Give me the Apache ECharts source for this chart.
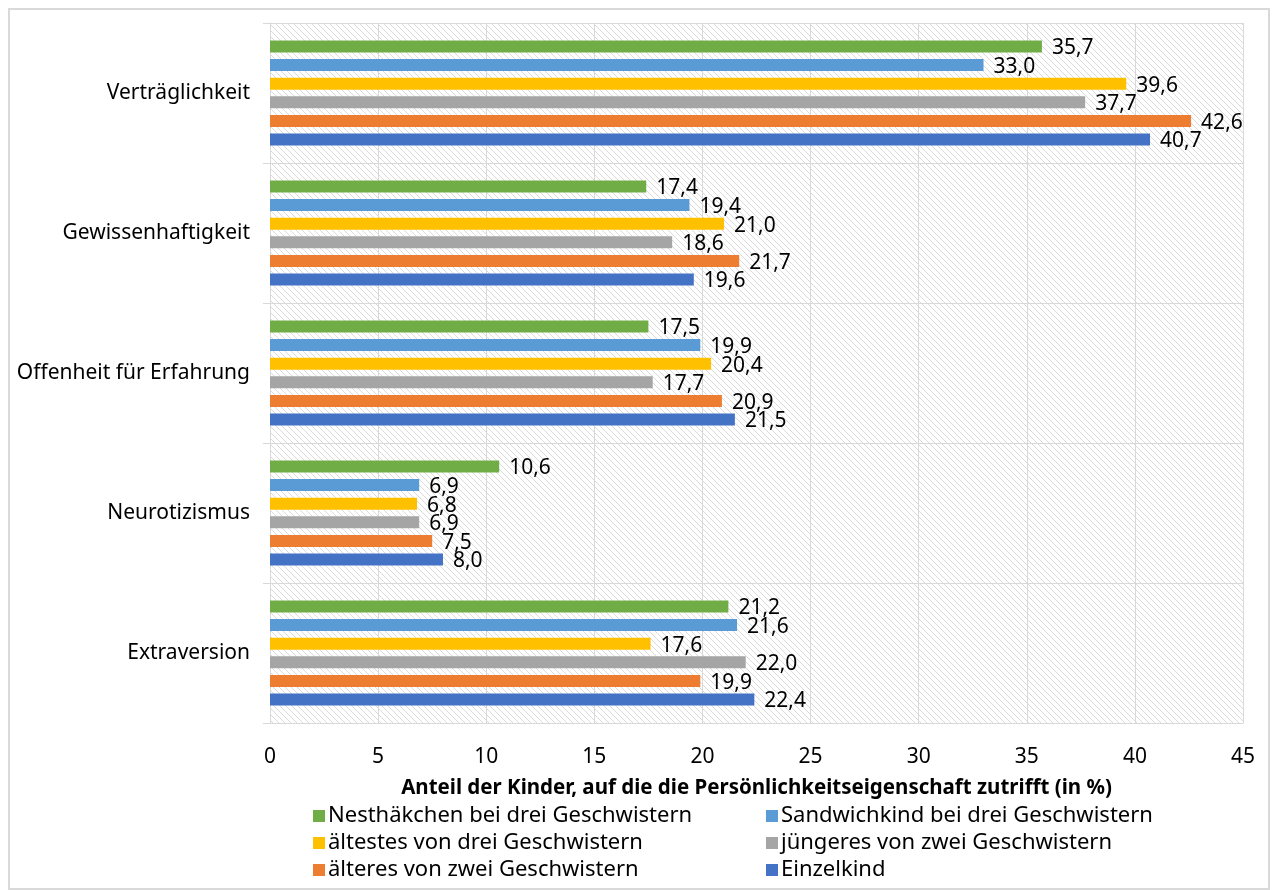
<!DOCTYPE html>
<html>
<head>
<meta charset="utf-8">
<script src="https://cdn.jsdelivr.net/npm/echarts@6/dist/echarts.min.js"></script>
<style>
  html, body { margin: 0; padding: 0; background: #fff; }
  #chart { width: 1278px; height: 890px; }
</style>
</head>
<body>
<div id="chart"></div>
<script>
// Kategorien (unten nach oben, wie ECharts sie zeichnet)
const categories = ['Extraversion', 'Neurotizismus', 'Offenheit für Erfahrung', 'Gewissenhaftigkeit', 'Verträglichkeit'];

// Werte je Gruppe, gleiche Reihenfolge wie categories
const einzelkind = [22.4, 8.0, 21.5, 19.6, 40.7];
const aelteresZwei = [19.9, 7.5, 20.9, 21.7, 42.6];
const juengeresZwei = [22.0, 6.9, 17.7, 18.6, 37.7];
const aeltestesDrei = [17.6, 6.8, 20.4, 21.0, 39.6];
const sandwichDrei = [21.6, 6.9, 19.9, 19.4, 33.0];
const nesthaekchenDrei = [21.2, 10.6, 17.5, 17.4, 35.7];

const xTicks = [0, 45, 5];

// Schraffur für den Plotbereich
function makeHatch() {
    const c = document.createElement('canvas');
    c.width = 6;
    c.height = 6;
    const ctx = c.getContext('2d');
    ctx.fillStyle = '#ffffff';
    ctx.fillRect(0, 0, 6, 6);
    ctx.strokeStyle = '#dadada';
    ctx.lineWidth = 1;
    ctx.beginPath();
    ctx.moveTo(0, 0); ctx.lineTo(6, 6);
    ctx.moveTo(-3, 3); ctx.lineTo(3, 9);
    ctx.moveTo(3, -3); ctx.lineTo(9, 3);
    ctx.stroke();
    return c;
}

const font = '"Noto Sans", "Open Sans", sans-serif';

function makeSeries(name, data, color) {
    return {
        name: name,
        type: 'bar',
        data: data,
        barWidth: 12,
        barGap: '55%',
        itemStyle: { color: color },
        label: {
            show: true,
            position: 'right',
            distance: 10,
            offset: [0, 2],
            color: '#000',
            fontSize: 21,
            fontFamily: font,
            formatter: p => p.value.toFixed(1).replace('.', ',')
        }
    };
}

const legendText = { fontSize: 22, color: '#000', fontFamily: font, padding: [0, 0, 0, -2] };

const chart = echarts.init(document.getElementById('chart'));
chart.setOption({
    backgroundColor: '#fff',
    animation: false,
    graphic: [{
        type: 'rect',
        shape: { x: 9, y: 9, width: 1260, height: 880 },
        style: { fill: 'none', stroke: '#d9d9d9', lineWidth: 2 },
        silent: true
    }],
    grid: {
        left: 270, right: 35, top: 23, bottom: 167,
        show: true,
        borderWidth: 0,
        backgroundColor: { image: makeHatch(), repeat: 'repeat' }
    },
    xAxis: {
        type: 'value',
        min: xTicks[0], max: xTicks[1], interval: xTicks[2],
        name: 'Anteil der Kinder, auf die die Persönlichkeitseigenschaft zutrifft (in %)',
        nameLocation: 'middle',
        nameGap: 55,
        nameTextStyle: { fontSize: 20.5, fontWeight: 'bold', color: '#000', fontFamily: font },
        axisLine: { show: true, lineStyle: { color: '#d9d9d9', width: 1 } },
        axisTick: { show: false },
        axisLabel: { fontSize: 21, color: '#000', margin: 24, fontFamily: font },
        splitLine: { show: true, lineStyle: { color: '#d9d9d9', width: 1 } }
    },
    yAxis: {
        type: 'category',
        data: categories,
        axisLine: { show: true, lineStyle: { color: '#d9d9d9', width: 1 } },
        axisTick: { show: true, length: 7, lineStyle: { color: '#d9d9d9' } },
        axisLabel: { fontSize: 21, color: '#000', margin: 20, fontFamily: font },
        splitLine: { show: true, lineStyle: { color: '#d9d9d9', width: 1 } }
    },
    legend: [{
        orient: 'vertical',
        left: 308, top: 800, height: 120, width: 440,
        itemWidth: 12, itemHeight: 12, itemGap: 5,
        icon: 'rect',
        data: ['Nesthäkchen bei drei Geschwistern', 'ältestes von drei Geschwistern', 'älteres von zwei Geschwistern'],
        textStyle: legendText
    }, {
        orient: 'vertical',
        left: 761, top: 800, height: 120, width: 440,
        itemWidth: 12, itemHeight: 12, itemGap: 5,
        icon: 'rect',
        data: ['Sandwichkind bei drei Geschwistern', 'jüngeres von zwei Geschwistern', 'Einzelkind'],
        textStyle: legendText
    }],
    series: [
        makeSeries('Nesthäkchen bei drei Geschwistern', nesthaekchenDrei, '#70ad47'),
        makeSeries('Sandwichkind bei drei Geschwistern', sandwichDrei, '#5b9bd5'),
        makeSeries('ältestes von drei Geschwistern', aeltestesDrei, '#ffc000'),
        makeSeries('jüngeres von zwei Geschwistern', juengeresZwei, '#a5a5a5'),
        makeSeries('älteres von zwei Geschwistern', aelteresZwei, '#ed7d31'),
        makeSeries('Einzelkind', einzelkind, '#4472c4')
    ]
});
</script>
</body>
</html>
